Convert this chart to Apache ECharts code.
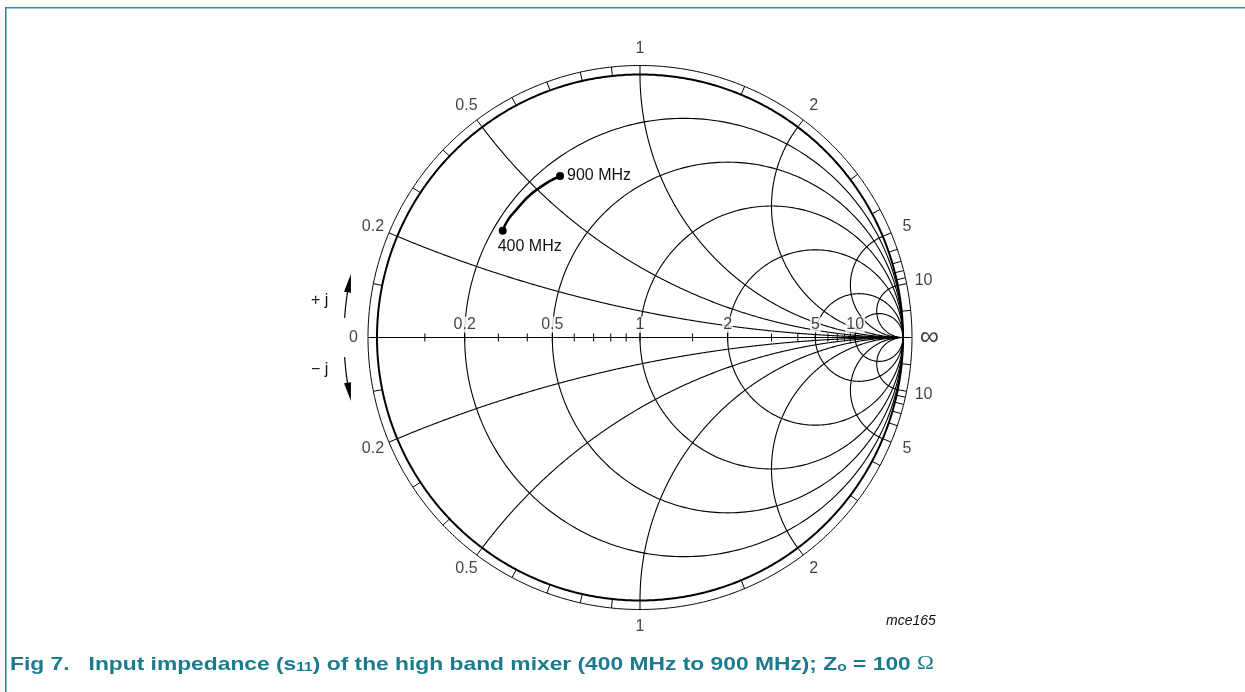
<!DOCTYPE html>
<html><head><meta charset="utf-8">
<script src="https://cdn.jsdelivr.net/npm/echarts@6/dist/echarts.min.js"></script>
<style>html,body{margin:0;padding:0;background:#fff}#c{width:1245px;height:692px}</style>
</head><body><div id="c"></div>
<script>
// ---- data ----
const resistanceCircles = [0.2, 0.5, 1, 2, 5, 10];
const reactanceArcs = [0.2, 0.5, 1, 2, 5, 10];
const axisTickValues = [0.1,0.2,0.3,0.4,0.5,0.6,0.7,0.8,0.9,1,1.5,2,3,4,5,6,7,8,9,10];
const ringTickValues = [0.1,0.2,0.3,0.4,0.5,0.6,0.7,0.8,0.9,1,1.5,2,3,4,5,6,7,8,9,10,20];
const axisLabelValues = [0.2, 0.5, 1, 2, 5, 10];
const ringLabelValues = [0.2, 0.5, 1, 2, 5, 10];
// measured s11 (reflection coefficient: real, imaginary), 400 MHz -> 900 MHz
const s11Re = [-0.522, -0.502, -0.471, -0.445, -0.418, -0.388, -0.357, -0.331, -0.304];
const s11Im = [0.406, 0.447, 0.485, 0.515, 0.542, 0.565, 0.586, 0.601, 0.614];
const freqLabels = ['400 MHz', '900 MHz'];

// ---- layout ----
const CX = 640, CY = 337.5, R = 263;
const RO = 272 / R;      // outer ring radius (relative)
const RL = 1.1;          // ring label radius
const FONT = '"Liberation Sans", Arial, sans-serif';
const FS = 16;

function gamma(r, x) {
  const d = (r + 1) * (r + 1) + x * x;
  return [(r * r + x * x - 1) / d, 2 * x / d];
}
function circle(cx, cy, rad, n) {
  const pts = [];
  for (let i = 0; i <= n; i++) {
    const a = i / n * Math.PI * 2;
    pts.push([cx + rad * Math.cos(a), cy + rad * Math.sin(a)]);
  }
  return pts;
}
const grid = [];
resistanceCircles.forEach(r => grid.push(circle(r / (r + 1), 0, 1 / (r + 1), 360)));
reactanceArcs.forEach(x => {
  [x, -x].forEach(xx => {
    const pts = [];
    const N = 600;
    for (let i = 0; i < N; i++) {
      const r = Math.tan(i / N * Math.PI / 2);
      pts.push(gamma(r, xx));
    }
    pts.push([1, 0]);
    grid.push(pts);
  });
});
const axisLine = [[-RO, 0], [RO, 0]];
const tk = 4 / R;
const axisTicks = axisTickValues.map(r => {
  const g = gamma(r, 0)[0];
  return [[g, -tk], [g, tk]];
});
const ringTicks = [];
ringTickValues.forEach(v => {
  [v, -v].forEach(vv => {
    const g = gamma(0, vv);
    ringTicks.push([[g[0], g[1]], [g[0] * RO, g[1] * RO]]);
  });
});
const axisLabelData = axisLabelValues.map(r => ({ value: [gamma(r, 0)[0], 0], name: String(r) }));
const ringLabelData = [];
ringLabelValues.forEach(v => {
  [v, -v].forEach(vv => {
    const g = gamma(0, vv);
    ringLabelData.push({ value: [g[0] * RL, g[1] * RL], name: String(v) });
  });
});
ringLabelData.push({ value: [-1.09, 0], name: '0' });
const infLabel = [{ value: [1.1, 0], name: '\u221E' }];

const curveData = s11Re.map((re, i) => {
  const item = { value: [re, s11Im[i]], symbol: 'none' };
  if (i === 0) {
    item.symbol = 'circle';
    item.label = { show: true, formatter: freqLabels[0], position: 'bottom', distance: 4, offset: [27, 0] };
  }
  if (i === s11Re.length - 1) {
    item.symbol = 'circle';
    item.label = { show: true, formatter: freqLabels[1], position: 'right', distance: 3 };
  }
  return item;
});

function linesSeries(coordsList, width, z) {
  return {
    type: 'lines', coordinateSystem: 'cartesian2d', polyline: true, silent: true,
    data: coordsList.map(c => ({ coords: c })),
    lineStyle: { color: '#000', width: width, opacity: 1, curveness: 0 },
    z: z, animation: false
  };
}

function arrowArc(a0, a1, rad) {
  const pts = [];
  for (let i = 0; i <= 10; i++) {
    const a = (a0 + (a1 - a0) * i / 10) * Math.PI / 180;
    pts.push([CX + rad * Math.cos(a), CY - rad * Math.sin(a)]);
  }
  return pts;
}
function arrowHead(aTip, aBase, rad, hw) {
  const t = aTip * Math.PI / 180, b = aBase * Math.PI / 180;
  const tip = [CX + rad * Math.cos(t), CY - rad * Math.sin(t)];
  const bi = [CX + (rad - hw) * Math.cos(b), CY - (rad - hw) * Math.sin(b)];
  const bo = [CX + (rad + hw) * Math.cos(b), CY - (rad + hw) * Math.sin(b)];
  return [tip, bi, bo];
}
const AR = 296;

const chart = echarts.init(document.getElementById('c'), null, { renderer: 'canvas' });
chart.setOption({
  animation: false,
  backgroundColor: '#fff',
  grid: { left: CX - 1.25 * R, top: CY - 1.25 * R, width: 2.5 * R, height: 2.5 * R },
  xAxis: { type: 'value', min: -1.25, max: 1.25, show: false },
  yAxis: { type: 'value', min: -1.25, max: 1.25, show: false },
  series: [
    linesSeries(grid, 1.1, 2),
    linesSeries([axisLine], 1.1, 2),
    linesSeries(axisTicks, 1, 2),
    linesSeries(ringTicks, 1, 2),
    linesSeries([circle(0, 0, 1, 720)], 2, 3),
    linesSeries([circle(0, 0, RO, 720)], 1, 3),
    {
      type: 'line', data: curveData, smooth: true, showAllSymbol: true, symbolSize: 8,
      lineStyle: { color: '#000', width: 2.5 }, itemStyle: { color: '#000' },
      label: { color: '#111', fontFamily: FONT, fontSize: FS }, z: 6, silent: true
    },
    {
      type: 'scatter', data: axisLabelData, symbolSize: 0, silent: true, z: 5,
      label: { show: true, formatter: '{b}', position: 'top', distance: 5, color: '#111',
        fontFamily: FONT, fontSize: FS, backgroundColor: '#fff', padding: [0, 1, 0, 1] }
    },
    {
      type: 'scatter', data: ringLabelData, symbolSize: 0, silent: true, z: 5,
      label: { show: true, formatter: '{b}', position: 'inside', color: '#111',
        fontFamily: FONT, fontSize: FS }
    },
    {
      type: 'scatter', data: infLabel, symbolSize: 0, silent: true, z: 5,
      label: { show: true, formatter: '{b}', position: 'inside', color: '#111',
        fontFamily: FONT, fontSize: 27 }
    }
  ],
  graphic: [
    { type: 'rect', shape: { x: 5, y: 7, width: 1240, height: 1 }, style: { fill: '#3a8ca2' } },
    { type: 'rect', shape: { x: 5, y: 8, width: 1240, height: 1 }, style: { fill: '#9cc7d2' } },
    { type: 'rect', shape: { x: 5, y: 7, width: 1.5, height: 685 }, style: { fill: '#2a7d93' } },
    { type: 'polyline', shape: { points: arrowArc(176.2, 170, AR) }, style: { stroke: '#000', lineWidth: 1.2, fill: null } },
    { type: 'polygon', shape: { points: arrowHead(167.6, 171.2, AR, 3.5) }, style: { fill: '#000' } },
    { type: 'polyline', shape: { points: arrowArc(-176.2, -170, AR) }, style: { stroke: '#000', lineWidth: 1.2, fill: null } },
    { type: 'polygon', shape: { points: arrowHead(-167.6, -171.2, AR, 3.5) }, style: { fill: '#000' } },
    { type: 'text', left: 311, top: 293, style: { text: '+ j', font: FS + 'px ' + FONT, fill: '#111' } },
    { type: 'text', left: 311, top: 362, style: { text: '\u2212 j', font: FS + 'px ' + FONT, fill: '#111' } },
    { type: 'text', left: 886, top: 614, style: { text: 'mce165', font: 'italic 14px ' + FONT, fill: '#111' } },
    {
      type: 'text', x: 10, y: 651, scaleX: 1.2, scaleY: 1,
      style: {
        text: '{b|Fig 7.   Input impedance (s}{s|11}{b|) of the high band mixer (400 MHz to 900 MHz); Z}{s|o}{b| = 100 }{o|\u03A9}',
        rich: {
          b: { font: 'bold 19px ' + FONT, fill: '#1b7b8e', verticalAlign: 'bottom', lineHeight: 23 },
          s: { font: 'bold 13px ' + FONT, fill: '#1b7b8e', verticalAlign: 'bottom', lineHeight: 17 },
          o: { font: '19px "Liberation Serif", serif', fill: '#1b7b8e', verticalAlign: 'bottom', lineHeight: 23 }
        }
      }
    }
  ]
});
</script></body></html>
